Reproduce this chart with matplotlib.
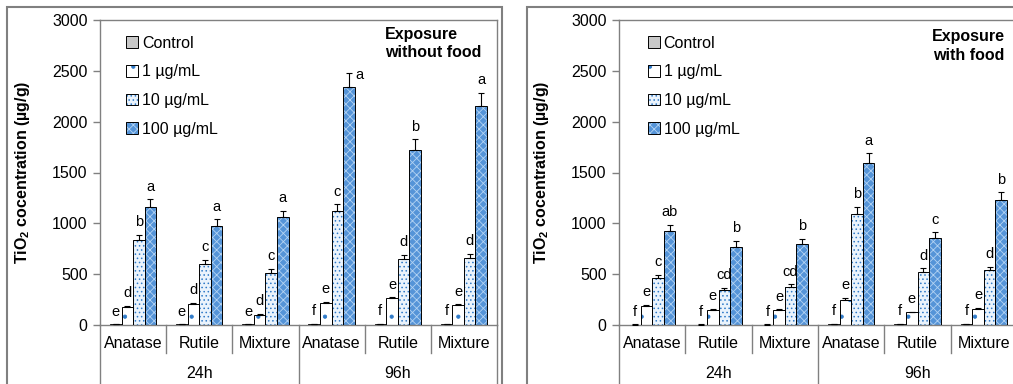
import matplotlib
matplotlib.use("Agg")
import matplotlib.pyplot as plt
import numpy as np
from matplotlib.patches import Patch, Rectangle
from matplotlib.legend_handler import HandlerTuple
import matplotlib.transforms as mtransforms

plt.rcParams['font.family'] = ['Liberation Sans', 'DejaVu Sans']
plt.rcParams['mathtext.fontset'] = 'custom'
plt.rcParams['mathtext.rm'] = 'Liberation Sans'
plt.rcParams['mathtext.bf'] = 'Liberation Sans:bold'
plt.rcParams['hatch.linewidth'] = 0.6

# ---------------- data ----------------
materials = ["Anatase", "Rutile", "Mixture", "Anatase", "Rutile", "Mixture"]
times = ["24h", "96h"]
series = ["Control", "1 µg/mL", "10 µg/mL", "100 µg/mL"]

# Exposure without food
nf_control = [5, 5, 5, 8, 8, 8]
nf_1 = [180, 207, 103, 213, 262, 195]
nf_10 = [836, 600, 515, 1118, 649, 656]
nf_100 = [1165, 977, 1059, 2340, 1720, 2155]
nf_err_control = [3, 3, 3, 3, 3, 3]
nf_err_1 = [10, 10, 5, 15, 12, 10]
nf_err_10 = [50, 40, 40, 70, 40, 42]
nf_err_100 = [70, 62, 65, 140, 105, 130]
nf_let_control = ["e", "e", "e", "f", "f", "f"]
nf_let_1 = ["d", "d", "d", "e", "e", "e"]
nf_let_10 = ["b", "c", "c", "c", "d", "d"]
nf_let_100 = ["a", "a", "a", "a", "b", "a"]

# Exposure with food
wf_control = [3, 3, 3, 8, 8, 8]
wf_1 = [188, 152, 145, 250, 125, 162]
wf_10 = [459, 344, 370, 1092, 518, 538]
wf_100 = [925, 770, 797, 1590, 860, 1232]
wf_err_control = [2, 2, 2, 3, 3, 3]
wf_err_1 = [10, 8, 8, 20, 5, 8]
wf_err_10 = [33, 23, 30, 72, 39, 36]
wf_err_100 = [59, 56, 49, 98, 52, 73]
wf_let_control = ["f", "f", "f", "f", "f", "f"]
wf_let_1 = ["e", "e", "e", "e", "e", "e"]
wf_let_10 = ["c", "cd", "cd", "b", "d", "d"]
wf_let_100 = ["ab", "b", "b", "a", "c", "b"]

yticks = [0, 500, 1000, 1500, 2000, 2500, 3000]

# ---------------- styles ----------------
BLUE = '#2F7AC8'
styles = [
    dict(face='#C8C8C8', hatch=None, hcolor=None),
    dict(face='white', hatch='.', hcolor=BLUE),
    dict(face='#EAF3FC', hatch='....', hcolor=BLUE),
    dict(face='#5594D8', hatch='xxxx', hcolor='#B3D3F3'),
]
SPINE = '#808080'

W, H = 1013, 384
fig = plt.figure(figsize=(W / 100, H / 100), dpi=100)


def px(x0, y_top, x1, y_bottom):
    return [x0 / W, 1 - y_bottom / H, (x1 - x0) / W, (y_bottom - y_top) / H]


def draw_panel(ax, vals, errs, lets, title, title_xy, title_ha, leg_x,
               side_label=None):
    n = len(materials)
    x = np.arange(n)
    bw = 0.175
    offs = [-1.5, -0.5, 0.5, 1.5]
    for k in range(4):
        st = styles[k]
        xs = x + offs[k] * bw
        if st['hatch'] is None:
            ax.bar(xs, vals[k], bw, color=st['face'], edgecolor='black',
                   linewidth=0.7, zorder=2)
        else:
            ax.bar(xs, vals[k], bw, color=st['face'], edgecolor=st['hcolor'],
                   hatch=st['hatch'], linewidth=0, zorder=2)
            ax.bar(xs, vals[k], bw, fill=False, edgecolor='black',
                   linewidth=0.7, zorder=3)
        ax.errorbar(xs, vals[k], yerr=[np.zeros(n), errs[k]], fmt='none',
                    ecolor='black', elinewidth=0.8, capsize=2.5, capthick=0.8,
                    zorder=4)
        for i in range(n):
            top = vals[k][i] + errs[k][i]
            if side_label is not None and (k, i) == side_label:
                ax.text(xs[i] + 0.1, top - 20, lets[k][i], ha='left',
                        va='center', fontsize=10.5, zorder=5)
            else:
                ax.text(xs[i], top + 55, lets[k][i], ha='center',
                        va='bottom', fontsize=10.5, zorder=5)

    ax.set_xlim(-0.5, n - 0.5)
    ax.set_ylim(0, 3000)
    ax.set_yticks(yticks)
    ax.set_yticklabels([str(t) for t in yticks], fontsize=11.5)
    ax.set_xticks([])
    for s in ax.spines.values():
        s.set_color(SPINE)
        s.set_linewidth(1.0)
    ax.tick_params(axis='y', direction='out', length=5, color=SPINE, width=1,
                   pad=4)
    ax.set_ylabel(r'$\mathbf{TiO_2}$ cocentration (µg/g)', fontsize=11.5,
                  fontweight='bold')
    ax.yaxis.set_label_coords(-0.172, 0.5)

    trans = mtransforms.blended_transform_factory(ax.transData, ax.transAxes)
    # separators below the axis
    for b in np.arange(0, n + 1) - 0.5:
        long = b in (-0.5, n / 2 - 0.5, n - 0.5)
        ax.plot([b, b], [0, -0.35 if long else -0.092], transform=trans,
                color=SPINE, lw=1.0, clip_on=False)
    for i, m in enumerate(materials):
        ax.text(i, -0.062, m, transform=trans, ha='center', va='center',
                fontsize=11.5)
    for j, t in enumerate(times):
        ax.text(j * 3 + 1, -0.158, t, transform=trans, ha='center',
                va='center', fontsize=11.5)

    # title
    ax.text(title_xy[0], title_xy[1], title, transform=ax.transAxes,
            ha=title_ha, va='top', fontsize=11.5, fontweight='bold',
            multialignment='center' if title_ha == 'center' else 'left',
            linespacing=1.3)

    # legend
    handles = []
    for k in range(4):
        st = styles[k]
        if st['hatch'] is None:
            handles.append(Patch(facecolor=st['face'], edgecolor='black',
                                 linewidth=0.7))
        else:
            p1 = Patch(facecolor=st['face'], edgecolor=st['hcolor'],
                       hatch=st['hatch'], linewidth=0)
            p2 = Patch(fill=False, edgecolor='black', linewidth=0.7)
            handles.append((p1, p2))
    ax.legend(handles, series, loc='upper left',
              bbox_to_anchor=(leg_x, 0.948), frameon=False, fontsize=11.5,
              handlelength=0.75, handleheight=0.75, handletextpad=0.25,
              labelspacing=0.85, borderaxespad=0, borderpad=0,
              handler_map={tuple: HandlerTuple(ndivide=1)})


# left panel
ax1 = fig.add_axes(px(100, 20, 497, 325))
draw_panel(ax1, [nf_control, nf_1, nf_10, nf_100],
           [nf_err_control, nf_err_1, nf_err_10, nf_err_100],
           [nf_let_control, nf_let_1, nf_let_10, nf_let_100],
           "Exposure\nwithout food", (0.718, 0.978), 'left', 0.065,
           side_label=(3, 3))

# right panel (cropped at the right edge)
ax2 = fig.add_axes(px(619, 20, 1017, 325))
draw_panel(ax2, [wf_control, wf_1, wf_10, wf_100],
           [wf_err_control, wf_err_1, wf_err_10, wf_err_100],
           [wf_let_control, wf_let_1, wf_let_10, wf_let_100],
           "Exposure\nwith food", (0.878, 0.97), 'center', 0.072)

# outer panel frames
fig.patches.append(Rectangle((7 / W, -0.1), (502 - 7) / W, 1.1 - 7 / H,
                             transform=fig.transFigure, fill=False,
                             edgecolor=SPINE, lw=1.5))
fig.patches.append(Rectangle((527 / W, -0.1), 0.5, 1.1 - 7 / H,
                             transform=fig.transFigure, fill=False,
                             edgecolor=SPINE, lw=1.5))

fig.savefig("out.png", dpi=100)
